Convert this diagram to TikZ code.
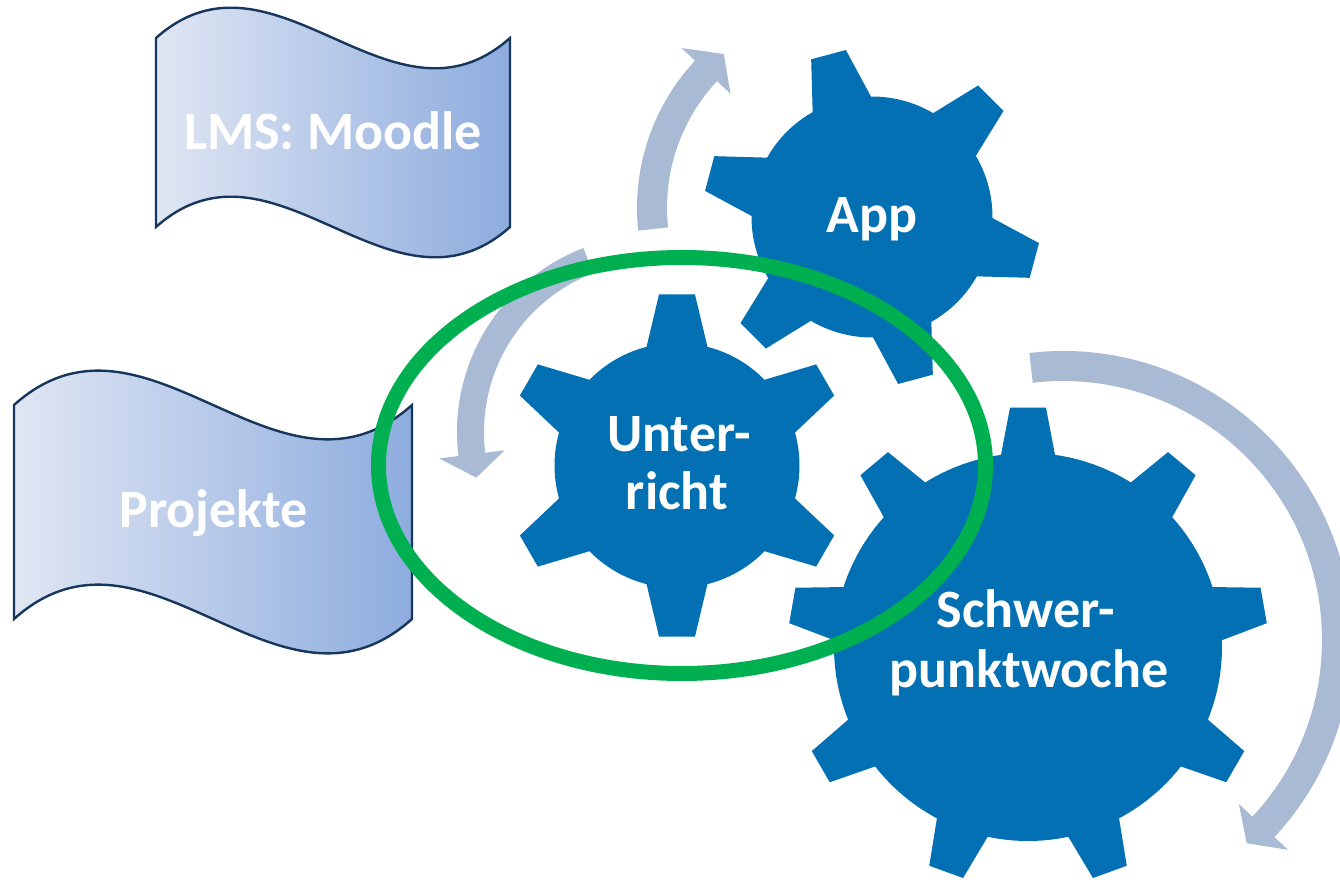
\documentclass[tikz,border=0pt]{standalone}
\usepackage{fontspec}
\setmainfont{Carlito}
\definecolor{gearblue}{RGB}{2,112,178}
\definecolor{arrowblue}{RGB}{169,186,213}
\definecolor{ringgreen}{RGB}{0,176,80}
\definecolor{waveline}{RGB}{22,54,92}
\definecolor{waveleft}{RGB}{224,230,243}
\definecolor{waveright}{RGB}{141,172,222}
\tikzset{
  gearfill/.style={fill=gearblue},
  arrowfill/.style={fill=arrowblue},
  wavebox/.style={draw=waveline, line width=2.4pt, left color=waveleft, right color=waveright},
  ringline/.style={draw=ringgreen, line width=15pt},
  lbl/.style={text=white, font=\bfseries\fontsize{54}{58}\selectfont, inner sep=0pt},
}
% cx cy n rbody rtip tiphalf basehalf rotation
\newcommand{\drawgear}[8]{%
  \begin{scope}[shift={(#1,#2)}]
    \pgfmathsetmacro{\gstep}{360/#3}
    \fill[gearfill] ({#8-#7}:#4)
      \foreach \gi [evaluate=\gi as \ga using {#8+(\gi-1)*\gstep}] in {1,...,#3} {
        -- ({\ga-#7}:#4) -- ({\ga-#6}:#5) -- ({\ga+#6}:#5) -- ({\ga+#7}:#4)
        arc[start angle={\ga+#7}, end angle={\ga+\gstep-#7}, radius=#4]
      } -- cycle;
  \end{scope}}
% cx cy Rmid width startangle headbaseangle tipangle headhalf
\newcommand{\drawcircarrow}[8]{%
  \begin{scope}[shift={(#1,#2)}]
    \fill[arrowfill] (#5:{#3+#4/2}) arc[start angle=#5, end angle=#6, radius={#3+#4/2}]
      -- (#6:{#3+#8}) -- (#7:#3) -- (#6:{#3-#8}) -- (#6:{#3-#4/2})
      arc[start angle=#6, end angle=#5, radius={#3-#4/2}] -- cycle;
  \end{scope}}
\begin{document}
\begin{tikzpicture}[x=1pt,y=1pt]
\useasboundingbox (0,0) rectangle (1340,881);
\fill[white] (0,0) rectangle (1340,881);
\clip (0,0) rectangle (1340,881);
% wave banners
\path[wavebox] (156,843) .. controls (274,948) and (392,738) .. (510,843) -- (510,654)
  .. controls (392,549) and (274,759) .. (156,654) -- cycle;
\node[lbl, anchor=base] (lms) at (333,731) {LMS: Moodle};
\path[wavebox] (14,476) .. controls (146.7,595) and (279.3,357) .. (412,476) -- (412,262)
  .. controls (279.3,143) and (146.7,381) .. (14,262) -- cycle;
\node[lbl, anchor=base] (proj) at (213.5,353) {Projekte};
% circular arrows
\drawcircarrow{853}{673}{201}{30}{186}{137}{130}{33.5}
\drawcircarrow{654}{449}{183.5}{27}{111}{187}{194.4}{33}
\drawcircarrow{1063}{241}{274}{30}{96.7}{-43}{-47.9}{33.5}
% gears
\drawgear{677}{415.5}{6}{122.5}{172}{6}{14.4}{90}
\drawgear{872}{664}{6}{120.5}{169}{6.1}{14.5}{105}
\drawgear{1028}{234}{9}{194}{240}{4.3}{8}{90}
% gear labels
\node[lbl, anchor=base] (app) at (872,648) {App};
\node[lbl, anchor=base] (u1) at (679,429.3) {Unter-};
\node[lbl, anchor=base] (u2) at (677,371) {richt};
\node[lbl, anchor=base] (s1) at (1026,253) {Schwer-};
\node[lbl, anchor=base] (s2) at (1029,194) {punktwoche};
% green ring
\draw[ringline] (682,415.5) ellipse[x radius=303.5, y radius=208];
\end{tikzpicture}
\end{document}
